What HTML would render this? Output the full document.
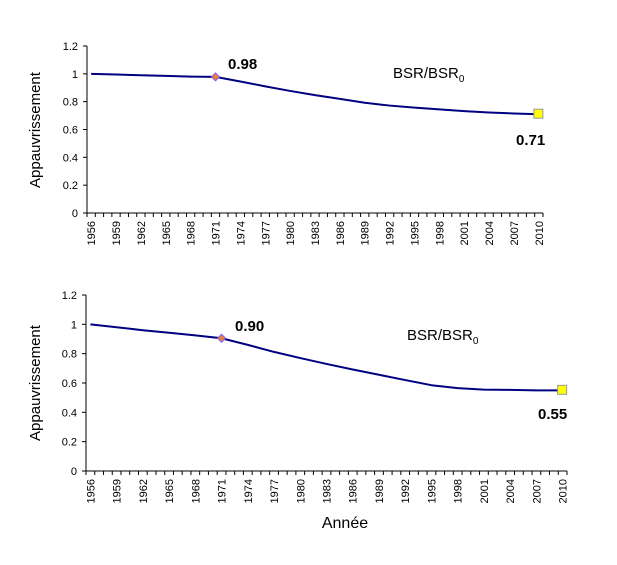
<!DOCTYPE html>
<html><head><meta charset="utf-8"><style>
body{margin:0;background:#fff;}
svg{display:block;font-family:"Liberation Sans",Arial,sans-serif;}
</style></head><body>
<svg id="s" width="617" height="565"></svg>
<script>
const years=[1956,1959,1962,1965,1968,1971,1974,1977,1980,1983,1986,1989,1992,1995,1998,2001,2004,2007,2010];
const series1=[1.0,0.995,0.99,0.985,0.98,0.978,0.945,0.91,0.877,0.847,0.82,0.792,0.772,0.757,0.745,0.732,0.722,0.715,0.71];
const series2=[1.0,0.98,0.96,0.943,0.925,0.905,0.86,0.812,0.77,0.73,0.692,0.656,0.62,0.585,0.565,0.555,0.553,0.55,0.55];
const yTicks=[0,0.2,0.4,0.6,0.8,1,1.2];
const yTickLabels=["0","0.2","0.4","0.6","0.8","1","1.2"];
const marker1=[1971,0.978,"0.98"],end1=[2010,0.71,"0.71"];
const marker2=[1971,0.905,"0.90"],end2=[2010,0.55,"0.55"];
const NS="http://www.w3.org/2000/svg";
const svg=document.getElementById('s');
function mk(t,a,p){const e=document.createElementNS(NS,t);for(const k in a)e.setAttribute(k,a[k]);(p||svg).appendChild(e);return e;}
function chart(name,x0,x1,yTop,yBot,data,mk1,mkEnd,lblA,lblB,bsr,titleY){
  const g=mk('g',{});
  
  
  const step=(x1-x0)/55;
  const X=yr=>x0+(yr-1956+0.5)*step;
  const Y=v=>yBot-(v/1.2)*(yBot-yTop);
  const ax=mk('path',{d:`M${x0} ${yTop}V${yBot}H${x1}`,stroke:'#000',fill:'none','stroke-width':1},g);
  
  
  yTicks.forEach((v,i)=>{
    mk('line',{x1:x0-4,x2:x0,y1:Y(v),y2:Y(v),stroke:'#000'},g);
    const t=mk('text',{x:x0-9,y:Y(v)+4,'text-anchor':'end','font-size':11},g);
    t.textContent=yTickLabels[i];
    
    
  });
  for(let k=0;k<=55;k++){const xx=x0+k*step;mk('line',{x1:xx,x2:xx,y1:yBot,y2:yBot+4,stroke:'#000'},g);}
  years.forEach(yr=>{
    const t=mk('text',{transform:`translate(${X(yr)+4},${yBot+8}) rotate(-90)`,'text-anchor':'end','font-size':11},g);
    t.textContent=yr;
    
    
  });
  const line=mk('polyline',{points:years.map((yr,i)=>X(yr)+','+Y(data[i])).join(' '),fill:'none',stroke:'#000080','stroke-width':2,'stroke-linejoin':'round'},g);
  
  
  const dx=X(mk1[0]),dy=Y(mk1[1]);
  const d=mk('path',{d:`M${dx} ${dy-4}L${dx+4} ${dy}L${dx} ${dy+4}L${dx-4} ${dy}Z`,fill:'#f08030',stroke:'#8060ff','stroke-width':1},g);
  
  
  const ex=X(mkEnd[0]),ey=Y(mkEnd[1]);
  const sq=mk('rect',{x:ex-5,y:ey-5,width:9,height:9,fill:'#ffff00',stroke:'#999','stroke-width':1},g);
  
  
  const a=mk('text',{x:lblA[0],y:lblA[1],'font-size':15,'font-weight':'bold'},g);a.textContent=mk1[2];
  
  
  const b=mk('text',{x:lblB[0],y:lblB[1],'font-size':15,'font-weight':'bold'},g);b.textContent=mkEnd[2];
  
  
  const s=mk('text',{x:bsr[0],y:bsr[1],'font-size':15},g);
  
  
  s.innerHTML='BSR/BSR<tspan font-size="10" dy="4">0</tspan>';
  const yt=mk('text',{transform:`translate(40,${titleY}) rotate(-90)`,'text-anchor':'middle','font-size':15},g);
  yt.textContent='Appauvrissement';
  
  
}
chart('chart-top',87,543,46,213,series1,marker1,end1,[228,69],[516,145],[393,78],130);
chart('chart-bottom',86,567,295,471,series2,marker2,end2,[235,331],[538,419],[407,340],383);
const xt=mk('text',{x:345,y:528,'text-anchor':'middle','font-size':16});
xt.textContent='Année';


</script>
</body></html>
